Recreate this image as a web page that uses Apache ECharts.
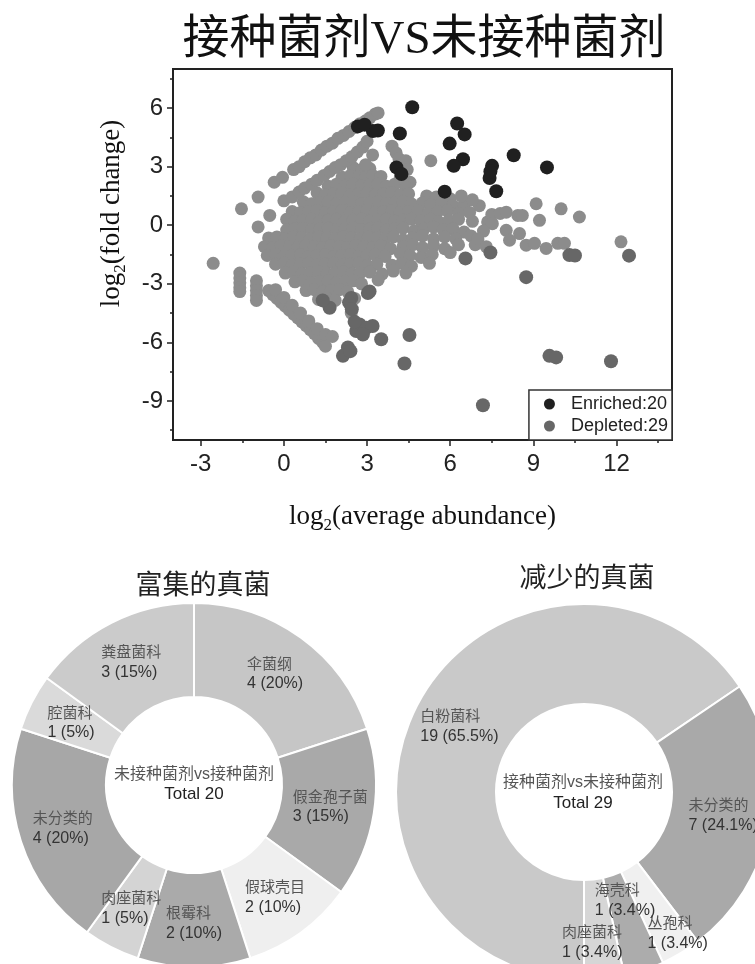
<!DOCTYPE html>
<html>
<head>
<meta charset="utf-8">
<title>接种菌剂VS未接种菌剂</title>
<script src="https://cdn.jsdelivr.net/npm/echarts@6/dist/echarts.min.js"></script>
<style>
  html, body { margin: 0; padding: 0; background: #fff; }
  #main { width: 755px; height: 964px; }
</style>
</head>
<body>
<div id="main"></div>
<script>
// ---- scatter data: [log2(average abundance), log2(fold change)] ----
// not significant points (light grey)
const otherPoints = [
  // dense cluster, row by row
  [2.5, 2.95], [2.8, 2.85], [3.1, 2.9],
  [2.1, 2.45], [2.4, 2.55], [2.7, 2.5], [2.95, 2.45], [3.2, 2.55], [3.5, 2.5], [4.2, 2.45], [4.55, 2.2],
  [1.6, 2.0], [1.9, 2.1], [2.2, 2.0], [2.5, 2.1], [2.8, 2.0], [3.1, 2.05], [3.4, 2.1], [3.7, 2.0], [4.0, 2.1], [4.4, 1.95],
  [1.2, 1.65], [1.5, 1.55], [1.8, 1.6], [2.1, 1.65], [2.4, 1.55], [2.7, 1.6], [3.0, 1.65], [3.3, 1.55], [3.6, 1.6], [3.9, 1.65], [4.2, 1.55], [4.5, 1.6], [5.15, 1.5], [5.5, 1.45], [6.0, 1.35],
  [0.7, 1.2], [1.0, 1.1], [1.3, 1.15], [1.6, 1.2], [1.9, 1.1], [2.2, 1.15], [2.5, 1.2], [2.8, 1.1], [3.1, 1.15], [3.4, 1.2], [3.7, 1.1], [4.0, 1.15], [4.3, 1.2], [4.6, 1.1], [5.0, 1.15], [5.3, 1.05], [5.7, 1.15], [6.1, 1.0], [6.5, 1.05], [7.05, 1.0],
  [0.3, 0.7], [0.6, 0.65], [0.9, 0.7], [1.2, 0.75], [1.5, 0.65], [1.8, 0.7], [2.1, 0.75], [2.4, 0.65], [2.7, 0.7], [3.0, 0.75], [3.3, 0.65], [3.6, 0.7], [3.9, 0.75], [4.2, 0.65], [4.5, 0.7], [4.85, 0.75], [5.2, 0.6], [5.55, 0.7], [5.9, 0.75], [6.3, 0.6], [6.7, 0.65],
  [0.1, 0.3], [0.4, 0.2], [0.7, 0.25], [1.0, 0.3], [1.3, 0.2], [1.6, 0.25], [1.9, 0.3], [2.2, 0.2], [2.5, 0.25], [2.8, 0.3], [3.1, 0.2], [3.4, 0.25], [3.7, 0.3], [4.0, 0.2], [4.3, 0.25], [4.6, 0.3], [4.95, 0.2], [5.3, 0.3], [5.6, 0.15], [5.95, 0.25], [6.3, 0.3], [6.8, 0.2], [7.35, 0.17],
  [0.1, -0.25], [0.4, -0.2], [0.7, -0.15], [1.0, -0.25], [1.3, -0.2], [1.6, -0.15], [1.9, -0.25], [2.2, -0.2], [2.5, -0.15], [2.8, -0.25], [3.1, -0.2], [3.4, -0.15], [3.7, -0.25], [4.0, -0.2], [4.3, -0.15], [4.7, -0.3], [5.05, -0.2], [5.4, -0.1], [5.75, -0.25], [6.1, -0.2], [6.5, -0.35],
  [-0.55, -0.65], [-0.25, -0.6], [0.05, -0.7], [0.35, -0.6], [0.65, -0.65], [0.95, -0.7], [1.25, -0.6], [1.55, -0.65], [1.85, -0.7], [2.15, -0.6], [2.45, -0.65], [2.75, -0.7], [3.05, -0.6], [3.35, -0.65], [3.65, -0.7], [3.95, -0.6], [4.3, -0.75], [4.65, -0.65], [5.0, -0.55], [5.4, -0.7], [5.8, -0.6], [6.2, -0.7], [6.75, -0.55],
  [-0.7, -1.1], [-0.4, -1.15], [-0.1, -1.05], [0.2, -1.1], [0.5, -1.15], [0.8, -1.05], [1.1, -1.1], [1.4, -1.15], [1.7, -1.05], [2.0, -1.1], [2.3, -1.15], [2.6, -1.05], [2.9, -1.1], [3.2, -1.15], [3.5, -1.05], [3.85, -1.2], [4.3, -1.1], [4.65, -1.0], [5.0, -1.15], [5.4, -1.05], [5.8, -1.2], [6.3, -1.0], [6.9, -1.0],
  [-0.6, -1.55], [-0.3, -1.5], [0.0, -1.6], [0.3, -1.55], [0.6, -1.5], [0.9, -1.6], [1.2, -1.55], [1.5, -1.5], [1.8, -1.6], [2.1, -1.55], [2.4, -1.5], [2.7, -1.6], [3.0, -1.55], [3.3, -1.5], [3.65, -1.6], [4.2, -1.45], [4.55, -1.55], [4.95, -1.65], [5.35, -1.5], [6.0, -1.4],
  [-0.3, -2.0], [0.0, -1.95], [0.3, -2.05], [0.6, -2.0], [0.9, -1.95], [1.2, -2.05], [1.5, -2.0], [1.8, -1.95], [2.1, -2.05], [2.4, -2.0], [2.7, -1.95], [3.0, -2.05], [3.35, -2.0], [3.9, -2.05], [4.25, -1.95], [4.6, -2.1], [5.25, -1.95],
  [0.05, -2.45], [0.35, -2.4], [0.65, -2.5], [0.95, -2.45], [1.25, -2.4], [1.55, -2.5], [1.85, -2.45], [2.15, -2.4], [2.45, -2.5], [2.75, -2.45], [3.1, -2.4], [3.55, -2.5], [3.95, -2.35], [4.4, -2.45],
  [0.4, -2.9], [0.7, -2.85], [1.0, -2.95], [1.3, -2.9], [1.6, -2.85], [1.9, -2.95], [2.2, -2.9], [2.5, -2.85], [2.8, -3.0], [3.4, -2.8],
  [0.8, -3.35], [1.1, -3.3], [1.4, -3.4], [1.7, -3.35], [2.0, -3.3], [2.3, -3.4], [2.55, -3.75],
  [1.25, -3.8], [1.55, -3.75], [1.85, -3.85], [2.43, -4.5],
  // upper diagonal bands
  [-0.35, 2.2], [-0.05, 2.45], [0.35, 2.85], [0.55, 3.0], [0.75, 3.25], [0.95, 3.45], [1.15, 3.6], [1.35, 3.85], [1.55, 4.05], [1.75, 4.2],
  [1.95, 4.45], [2.15, 4.6], [2.35, 4.8], [2.55, 5.0], [2.75, 5.2], [2.95, 5.35], [3.1, 5.5], [3.3, 5.7], [3.4, 5.75],
  [0.0, 1.25], [0.3, 1.45], [0.55, 1.7], [0.75, 1.9], [1.0, 2.1], [1.2, 2.3], [1.45, 2.55], [1.65, 2.75], [1.85, 2.95], [2.05, 3.1],
  [2.25, 3.3], [2.45, 3.5], [2.65, 3.75], [2.85, 4.0], [3.0, 4.3],
  [3.2, 3.6], [2.95, 3.1], [3.9, 4.05], [4.05, 3.7], [4.15, 3.4], [4.4, 3.3], [4.2, 4.7], [5.3, 3.3], [6.1, 3.05], [4.45, 2.85],
  // left outliers
  [-0.93, 1.44], [-1.53, 0.84], [-0.51, 0.5], [-0.93, -0.09], [-2.55, -1.95],
  [-1.59, -2.45], [-1.59, -2.7], [-1.59, -2.95], [-1.59, -3.2], [-1.59, -3.4],
  [-0.99, -2.85], [-0.99, -3.1], [-0.99, -3.35], [-0.99, -3.6], [-0.99, -3.85],
  // lower diagonal band
  [-0.55, -3.35], [-0.4, -3.55], [-0.25, -3.75], [-0.1, -3.95], [0.05, -4.15], [0.2, -4.35], [0.35, -4.55], [0.5, -4.75],
  [0.65, -4.95], [0.8, -5.15], [0.95, -5.35], [1.1, -5.55], [1.25, -5.8], [1.4, -6.0], [1.5, -6.2],
  [-0.3, -3.3], [0.0, -3.7], [0.3, -4.1], [0.6, -4.5], [0.9, -4.9], [1.2, -5.3], [1.5, -5.6], [1.75, -5.7],
  // right side, high abundance
  [7.5, 0.55], [7.8, 0.6], [8.02, 0.67], [8.44, 0.5], [8.6, 0.5], [9.1, 1.1], [9.22, 0.25], [10.0, 0.84], [10.66, 0.42],
  [8.02, -0.26], [8.5, -0.43], [8.14, -0.77], [8.74, -1.02], [9.04, -0.93], [9.46, -1.19], [9.88, -0.93], [10.12, -0.93],
  [12.16, -0.85], [7.52, 0.08], [7.2, -0.3], [7.0, -0.7], [7.3, -1.1], [6.8, 1.3], [6.4, 1.5]
]
// significantly depleted (dark grey)
const depletedPoints = [
  [6.55, -1.7], [7.45, -1.4], [10.3, -1.53], [10.5, -1.55], [12.45, -1.56], [8.74, -2.66],
  [3.03, -3.47], [2.43, -3.73], [1.65, -4.23], [2.73, -5.08], [2.97, -5.25], [3.2, -5.16], [2.61, -5.42],
  [2.85, -5.6], [2.55, -4.95], [3.51, -5.84], [4.53, -5.62], [4.35, -7.08], [2.31, -6.26], [2.13, -6.69],
  [2.4, -6.45], [9.58, -6.69], [9.82, -6.77], [11.8, -6.97], [7.18, -9.22], [3.09, -3.39], [2.35, -3.95],
  [2.45, -4.3], [1.4, -3.85]
]
// significantly enriched (black)
const enrichedPoints = [
  [4.63, 6.04], [3.39, 4.85], [3.21, 4.82], [4.18, 4.7], [2.67, 5.06], [2.91, 5.15], [6.25, 5.21],
  [6.52, 4.65], [5.98, 4.18], [6.46, 3.38], [6.13, 3.04], [4.06, 2.96], [4.24, 2.62], [7.51, 3.04],
  [7.42, 2.42], [7.66, 1.74], [8.29, 3.58], [9.49, 2.96], [5.8, 1.72], [7.45, 2.75]
]

// axis ticks
const xMajorTicks = [-3, 0, 3, 6, 9, 12]
const xMinorTicks = [-1.5, 1.5, 4.5, 7.5, 10.5, 13.5]
const yMajorTicks = [-9, -6, -3, 0, 3, 6]
const yMinorTicks = [-10.5, -7.5, -4.5, -1.5, 1.5, 4.5, 7.5]

// ---- donut data ----
const enrichedNames = ['伞菌纲', '假金孢子菌', '假球壳目', '根霉科', '肉座菌科', '未分类的', '腔菌科', '粪盘菌科']
const enrichedCounts = [4, 3, 2, 2, 1, 4, 1, 3]
const depletedNames = ['白粉菌科', '未分类的', '丛孢科', '海壳科', '肉座菌科']
const depletedCounts = [19, 7, 1, 1, 1]

// slice colours
const enrichedColors = ['#c6c6c6', '#a9a9a9', '#efefef', '#aaaaaa', '#d4d4d4', '#a7a7a7', '#dadada', '#cbcbcb']
const depletedColors = ['#c9c9c9', '#a9a9a9', '#f0f0f0', '#acacac', '#d6d6d6']
// nudges for the crowded small-slice labels of the right donut
const depletedLabelShift = [[0, 0], [0, 0], [21, 20], [-4, -26], [-7, 10]]

const sansFont = 'Liberation Sans, Noto Sans CJK SC, sans-serif'
const serifFont = 'Liberation Serif, Noto Sans CJK SC, serif'
const cjkFont = 'Noto Sans CJK SC, sans-serif'

const sum = (arr) => arr.reduce((a, b) => a + b, 0)

const makePieData = (names, counts, colors) =>
  names.map((name, i) => ({ name, value: counts[i], itemStyle: { color: colors[i] } }))

const makeLabel = (total) => ({
  show: true,
  position: 'inside',
  formatter: (p) => {
    const pct = Math.round((p.value / total) * 1000) / 10
    return '{n|' + p.name + '}\n{v|' + p.value + ' (' + pct + '%)}'
  },
  rich: {
    n: { fontFamily: cjkFont, fontSize: 15, color: '#555', align: 'left', lineHeight: 21 },
    v: { fontFamily: sansFont, fontSize: 16, color: '#333', align: 'left', lineHeight: 21 }
  }
})

const axisNameRich = {
  t: { fontFamily: serifFont, fontSize: 27, color: '#111' },
  s: { fontFamily: serifFont, fontSize: 17, color: '#111', verticalAlign: 'top', padding: [17, 0, 0, 0] }
}

const chart = echarts.init(document.getElementById('main'))

const option = {
  animation: false,
  backgroundColor: '#fff',
  title: [
    {
      text: '接种菌剂VS未接种菌剂',
      left: 424, top: 17, padding: 0, textAlign: 'center',
      textStyle: { fontFamily: serifFont, fontSize: 47, fontWeight: 'normal', color: '#111' }
    },
    {
      text: '富集的真菌',
      left: 203, top: 570, padding: 0, textAlign: 'center',
      textStyle: { fontFamily: cjkFont, fontSize: 27, fontWeight: 'normal', color: '#222' }
    },
    {
      text: '减少的真菌',
      left: 587, top: 563, padding: 0, textAlign: 'center',
      textStyle: { fontFamily: cjkFont, fontSize: 27, fontWeight: 'normal', color: '#222' }
    },
    {
      text: '未接种菌剂vs接种菌剂',
      subtext: 'Total ' + sum(enrichedCounts),
      left: 194, top: 767, padding: 0, itemGap: 3, textAlign: 'center',
      textStyle: { fontFamily: sansFont, fontSize: 16, fontWeight: 'normal', color: '#555' },
      subtextStyle: { fontFamily: sansFont, fontSize: 17, color: '#222' }
    },
    {
      text: '接种菌剂vs未接种菌剂',
      subtext: 'Total ' + sum(depletedCounts),
      left: 583, top: 775, padding: 0, itemGap: 4, textAlign: 'center',
      textStyle: { fontFamily: sansFont, fontSize: 16, fontWeight: 'normal', color: '#555' },
      subtextStyle: { fontFamily: sansFont, fontSize: 17, color: '#222' }
    }
  ],
  grid: {
    left: 173, right: 83, top: 69, bottom: 524,
    show: true, borderColor: '#222', borderWidth: 2
  },
  legend: {
    data: ['Enriched:20', 'Depleted:29'],
    orient: 'vertical',
    right: 83, bottom: 524,
    padding: [5, 4, 5, 15],
    itemGap: 4,
    itemWidth: 11, itemHeight: 11,
    icon: 'circle',
    borderColor: '#333', borderWidth: 1.5,
    backgroundColor: '#fff',
    textStyle: { fontFamily: sansFont, fontSize: 18, color: '#222', padding: [0, 0, 0, 11] }
  },
  xAxis: [
    {
      type: 'value', min: -4, max: 14, position: 'bottom',
      axisLine: { show: true, onZero: false, lineStyle: { color: '#222', width: 2 } },
      axisTick: { show: true, length: 6, customValues: xMajorTicks, lineStyle: { color: '#222', width: 1.5 } },
      axisLabel: { customValues: xMajorTicks, margin: 12, fontFamily: sansFont, fontSize: 24, color: '#222' },
      splitLine: { show: false },
      name: '{t|log}{s|2}{t|(average abundance)}',
      nameLocation: 'middle', nameGap: 60,
      nameTextStyle: { rich: axisNameRich }
    },
    {
      type: 'value', min: -4, max: 14, position: 'bottom',
      axisLine: { show: false, onZero: false },
      axisTick: { show: true, length: 3, customValues: xMinorTicks, lineStyle: { color: '#222', width: 1.5 } },
      axisLabel: { show: false },
      splitLine: { show: false }
    }
  ],
  yAxis: [
    {
      type: 'value', min: -11, max: 8, position: 'left',
      axisLine: { show: true, onZero: false, lineStyle: { color: '#222', width: 2 } },
      axisTick: { show: true, length: 6, customValues: yMajorTicks, lineStyle: { color: '#222', width: 1.5 } },
      axisLabel: { customValues: yMajorTicks, margin: 10, fontFamily: sansFont, fontSize: 24, color: '#222' },
      splitLine: { show: false },
      name: '{t|log}{s|2}{t|(fold change)}',
      nameLocation: 'middle', nameGap: 44, nameRotate: 90,
      nameTextStyle: { rich: axisNameRich, padding: [0, 0, 0, 82] }
    },
    {
      type: 'value', min: -11, max: 8, position: 'left',
      axisLine: { show: false, onZero: false },
      axisTick: { show: true, length: 3, customValues: yMinorTicks, lineStyle: { color: '#222', width: 1.5 } },
      axisLabel: { show: false },
      splitLine: { show: false }
    }
  ],
  series: [
    {
      name: 'Other',
      type: 'scatter',
      symbolSize: 13,
      itemStyle: { color: '#8c8c8c', opacity: 1 },
      data: otherPoints
    },
    {
      name: 'Depleted:29',
      type: 'scatter',
      symbolSize: 14,
      itemStyle: { color: '#676767', opacity: 1 },
      data: depletedPoints
    },
    {
      name: 'Enriched:20',
      type: 'scatter',
      symbolSize: 14,
      itemStyle: { color: '#202020', opacity: 1 },
      data: enrichedPoints
    },
    {
      name: '富集的真菌',
      type: 'pie',
      center: [194, 785],
      radius: [88, 182],
      startAngle: 90,
      clockwise: true,
      avoidLabelOverlap: false,
      itemStyle: { borderColor: '#fff', borderWidth: 2 },
      label: makeLabel(sum(enrichedCounts)),
      labelLine: { show: false },
      emphasis: { disabled: true },
      data: makePieData(enrichedNames, enrichedCounts, enrichedColors)
    },
    {
      name: '减少的真菌',
      type: 'pie',
      center: [584, 792],
      radius: [88, 188],
      startAngle: -90,
      clockwise: true,
      avoidLabelOverlap: false,
      itemStyle: { borderColor: '#fff', borderWidth: 2 },
      label: makeLabel(sum(depletedCounts)),
      labelLine: { show: false },
      labelLayout: (params) => {
        const shift = depletedLabelShift[params.dataIndex]
        return { dx: shift[0], dy: shift[1] }
      },
      emphasis: { disabled: true },
      data: makePieData(depletedNames, depletedCounts, depletedColors)
    }
  ]
}

chart.setOption(option)
</script>
</body>
</html>
